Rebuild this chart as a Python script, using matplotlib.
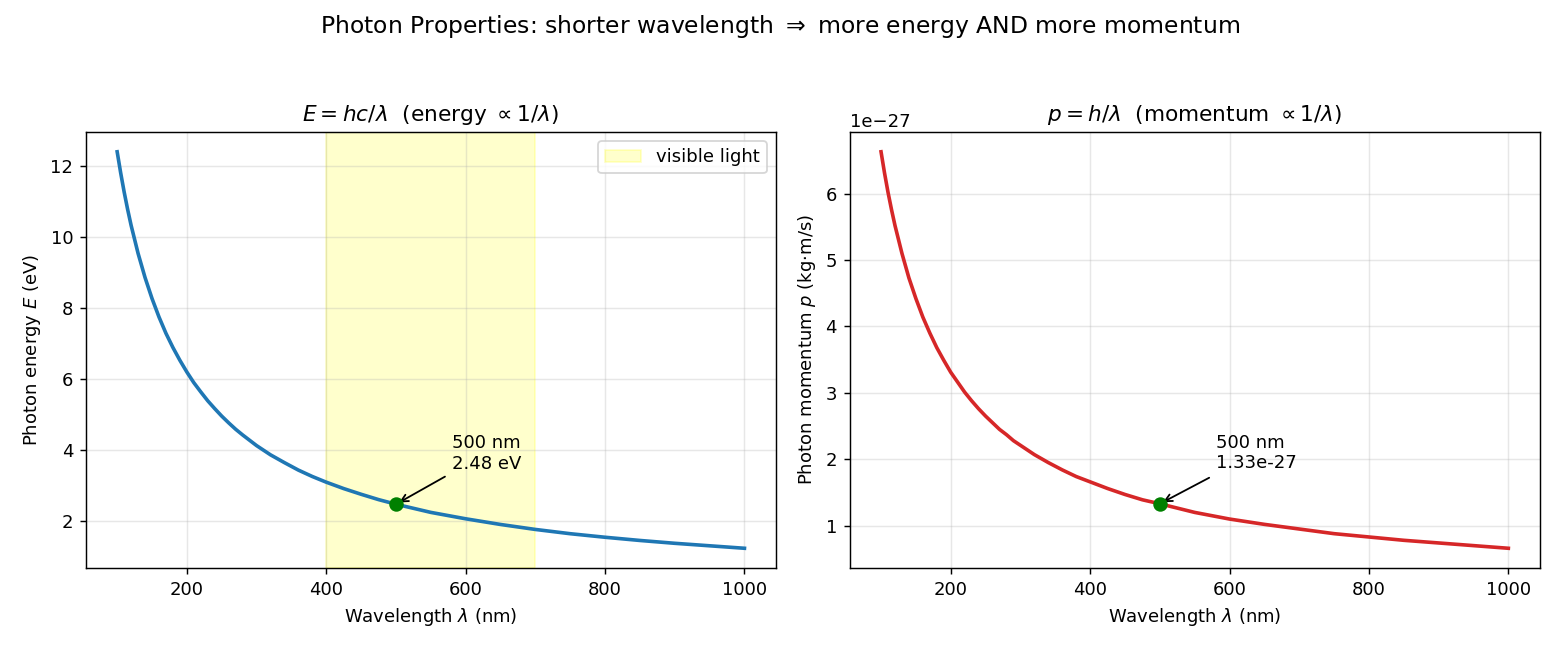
import numpy as np
import matplotlib
matplotlib.use("Agg")
import matplotlib.pyplot as plt

# values
wavelength_nm = [100, 105, 110, 115, 120, 130, 140, 150, 160, 170, 180, 190, 200, 210, 220, 230, 240,
                 250, 260, 270, 280, 290, 300, 320, 340, 360, 380, 400, 425, 450, 475, 500, 550, 600,
                 650, 700, 750, 800, 850, 900, 950, 1000]
energy_ev = [12.40, 11.81, 11.27, 10.78, 10.33, 9.54, 8.86, 8.27, 7.75, 7.29, 6.89, 6.53, 6.20, 5.90, 5.64,
             5.39, 5.17, 4.96, 4.77, 4.59, 4.43, 4.28, 4.13, 3.87, 3.65, 3.44, 3.26, 3.10, 2.92, 2.76,
             2.61, 2.48, 2.25, 2.07, 1.91, 1.77, 1.65, 1.55, 1.46, 1.38, 1.31, 1.24]
momentum_e27 = [6.63, 6.31, 6.02, 5.76, 5.52, 5.10, 4.73, 4.42, 4.14, 3.90, 3.68, 3.49, 3.31, 3.16, 3.01,
                2.88, 2.76, 2.65, 2.55, 2.45, 2.37, 2.28, 2.21, 2.07, 1.95, 1.84, 1.74, 1.66, 1.56, 1.47,
                1.39, 1.33, 1.20, 1.10, 1.02, 0.95, 0.88, 0.83, 0.78, 0.74, 0.70, 0.66]

marked_nm = 500
marked_energy = 2.48
marked_momentum = 1.33e-27
visible_range = (400, 700)

lam = np.array(wavelength_nm)
p = np.array(momentum_e27) * 1e-27

fig, (ax1, ax2) = plt.subplots(1, 2, figsize=(12, 5), dpi=130)

# energy panel
ax1.plot(lam, energy_ev, color="tab:blue", lw=2)
ax1.axvspan(*visible_range, color="yellow", alpha=0.2, label="visible light")
ax1.plot(marked_nm, marked_energy, "o", color="green", ms=7, zorder=5)
ax1.annotate(f"{marked_nm} nm\n{marked_energy:.2f} eV", xy=(marked_nm, marked_energy),
             xytext=(marked_nm + 80, marked_energy + 1.0),
             arrowprops=dict(arrowstyle="->", color="black"))
ax1.set_title(r"$E = hc/\lambda$  (energy $\propto 1/\lambda$)")
ax1.set_xlabel(r"Wavelength $\lambda$ (nm)")
ax1.set_ylabel(r"Photon energy $E$ (eV)")
ax1.grid(alpha=0.3)
ax1.legend(loc="upper right")

# momentum panel
ax2.plot(lam, p, color="tab:red", lw=2)
ax2.plot(marked_nm, marked_momentum, "o", color="green", ms=7, zorder=5)
ax2.annotate(f"{marked_nm} nm\n{marked_momentum:.2e}", xy=(marked_nm, marked_momentum),
             xytext=(marked_nm + 80, marked_momentum * 1.4),
             arrowprops=dict(arrowstyle="->", color="black"))
ax2.set_title(r"$p = h/\lambda$  (momentum $\propto 1/\lambda$)")
ax2.set_xlabel(r"Wavelength $\lambda$ (nm)")
ax2.set_ylabel(r"Photon momentum $p$ (kg·m/s)")
ax2.grid(alpha=0.3)

fig.suptitle(r"Photon Properties: shorter wavelength $\Rightarrow$ more energy AND more momentum", fontsize=13)
fig.subplots_adjust(left=0.055, right=0.987, bottom=0.126, top=0.797, wspace=0.107)
plt.savefig("out.png")
